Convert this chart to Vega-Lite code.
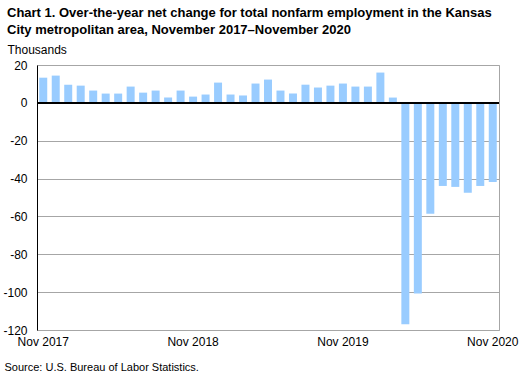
{
  "$schema": "https://vega.github.io/schema/vega-lite/v6.json",
  "width": 462,
  "height": 265,
  "autosize": {"type": "none"},
  "padding": {"left": 37, "top": 65, "right": 27, "bottom": 45},
  "background": "white",
  "title": {
    "text": ["Chart 1. Over-the-year net change for total nonfarm employment in the Kansas", "City metropolitan area, November 2017–November  2020"],
    "anchor": "start",
    "frame": "group",
    "dx": -30,
    "offset": 6,
    "fontSize": 13,
    "fontWeight": "bold",
    "font": "Liberation Sans",
    "color": "black",
    "lineHeight": 17
  },
  "config": {
    "view": {"stroke": "#a6a6a6", "strokeWidth": 1},
    "font": "Liberation Sans"
  },
  "data": {
    "values": [
      {"month": "Nov 2017", "change": 13.3},
      {"month": "Dec 2017", "change": 14.4},
      {"month": "Jan 2018", "change": 9.6},
      {"month": "Feb 2018", "change": 9.1},
      {"month": "Mar 2018", "change": 6.5},
      {"month": "Apr 2018", "change": 4.9},
      {"month": "May 2018", "change": 4.9},
      {"month": "Jun 2018", "change": 8.6},
      {"month": "Jul 2018", "change": 5.4},
      {"month": "Aug 2018", "change": 6.5},
      {"month": "Sep 2018", "change": 2.8},
      {"month": "Oct 2018", "change": 6.5},
      {"month": "Nov 2018", "change": 3.3},
      {"month": "Dec 2018", "change": 4.4},
      {"month": "Jan 2019", "change": 10.7},
      {"month": "Feb 2019", "change": 4.4},
      {"month": "Mar 2019", "change": 3.9},
      {"month": "Apr 2019", "change": 10.2},
      {"month": "May 2019", "change": 12.3},
      {"month": "Jun 2019", "change": 6.5},
      {"month": "Jul 2019", "change": 4.9},
      {"month": "Aug 2019", "change": 9.6},
      {"month": "Sep 2019", "change": 8.1},
      {"month": "Oct 2019", "change": 9.1},
      {"month": "Nov 2019", "change": 10.2},
      {"month": "Dec 2019", "change": 8.6},
      {"month": "Jan 2020", "change": 8.6},
      {"month": "Feb 2020", "change": 16.0},
      {"month": "Mar 2020", "change": 2.8},
      {"month": "Apr 2020", "change": -117.0},
      {"month": "May 2020", "change": -100.7},
      {"month": "Jun 2020", "change": -58.6},
      {"month": "Jul 2020", "change": -43.9},
      {"month": "Aug 2020", "change": -44.4},
      {"month": "Sep 2020", "change": -47.5},
      {"month": "Oct 2020", "change": -43.9},
      {"month": "Nov 2020", "change": -41.8}
    ]
  },
  "layer": [
    {
      "mark": {"type": "bar", "color": "#99ccff"},
      "encoding": {
        "x": {
          "field": "month",
          "type": "ordinal",
          "sort": null,
          "scale": {"paddingInner": 0.36, "paddingOuter": 0.18},
          "axis": {
            "title": "Source: U.S. Bureau of Labor Statistics.",
            "titleFontSize": 11,
            "titleFontWeight": "normal",
            "titleColor": "black",
            "titleAlign": "left",
            "titleAnchor": "start",
            "titleBaseline": "alphabetic",
            "titleX": -33,
            "titleY": 40,
            "labelAngle": 0,
            "labelFontSize": 12,
            "labelColor": "black",
            "labelPadding": 6,
            "labelOverlap": false,
            "labelExpr": "substring(datum.label, 0, 3) == 'Nov' ? datum.label : ''",
            "ticks": false,
            "domain": false,
            "grid": false
          }
        },
        "y": {
          "field": "change",
          "type": "quantitative",
          "scale": {"domain": [-120, 20], "nice": false},
          "axis": {
            "values": [-120, -100, -80, -60, -40, -20, 0, 20],
            "tickCount": 8,
            "labelOverlap": false,
            "labelExpr": "'' + datum.value",
            "title": "Thousands",
            "titleAngle": 0,
            "titleAlign": "left",
            "titleBaseline": "alphabetic",
            "titleFontSize": 12,
            "titleFontWeight": "normal",
            "titleColor": "black",
            "titleX": -30,
            "titleY": -12,
            "labelFontSize": 12,
            "labelColor": "black",
            "labelPadding": 10,
            "ticks": false,
            "domainColor": "black",
            "grid": true,
            "gridColor": "#a6a6a6",
            "gridOpacity": 1
          }
        }
      }
    },
    {
      "mark": {"type": "rule", "color": "black", "strokeWidth": 1.5},
      "encoding": {"y": {"datum": 0, "type": "quantitative"}}
    }
  ]
}
